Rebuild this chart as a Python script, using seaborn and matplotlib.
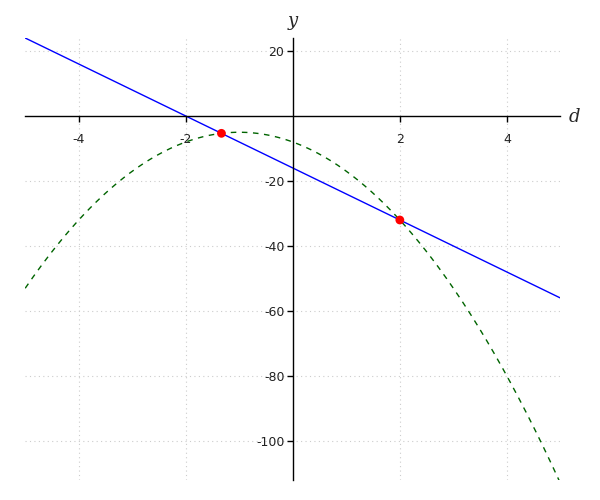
import numpy as np
import pandas as pd
import matplotlib
matplotlib.use("Agg")
import matplotlib.pyplot as plt
import seaborn as sns

# curves: line through (-2, 0) and (2, -32),
# parabola with top near (-1, -5), passing (2, -32) and (-5, -53)
line_coef = [-8, -16]
parab_coef = [-3, -6, -8]
d_range = [-5, 5]
y_range = [-112, 24]
points_d = [-4 / 3, 2]
points_y = [-16 / 3, -32]
x_ticks = [-4, -2, 2, 4]
y_ticks = [20, -20, -40, -60, -80, -100]

d = np.linspace(d_range[0], d_range[1], 400)
df = pd.DataFrame({
    "d": d,
    "line": np.polyval(line_coef, d),
    "parab": np.polyval(parab_coef, d),
})
pts = pd.DataFrame({"d": points_d, "y": points_y})

sns.set_style("white")
fig = plt.figure(figsize=(6, 5), dpi=100)
ax = fig.add_axes([0.042, 0.04, 0.892, 0.884])

sns.lineplot(data=df, x="d", y="line", color="blue", linewidth=1, ax=ax)
sns.lineplot(data=df, x="d", y="parab", color="#006400", linewidth=1,
             ax=ax, linestyle=(0, (4, 4)))
sns.scatterplot(data=pts, x="d", y="y", color="red", s=40, edgecolor="none",
                zorder=5, ax=ax)

ax.set_xlim(d_range)
ax.set_ylim(y_range)

# axes crossing at origin
for side in ["top", "right"]:
    ax.spines[side].set_visible(False)
ax.spines["left"].set_position(("data", 0))
ax.spines["bottom"].set_position(("data", 0))
for side in ["left", "bottom"]:
    ax.spines[side].set_color("black")
    ax.spines[side].set_linewidth(1)

ax.set_xticks(x_ticks)
ax.set_yticks(y_ticks)
ax.set_xticklabels([str(t) for t in x_ticks])
ax.set_yticklabels([str(t) for t in y_ticks])
ax.tick_params(axis="both", direction="out", length=4, width=1, color="black",
               labelsize=9, labelcolor="#222222", bottom=True, left=True, pad=8)
ax.tick_params(axis="y", pad=2)

# dotted grid
for t in x_ticks:
    ax.axvline(t, color="#cccccc", linestyle=(0, (1, 3)), linewidth=0.8, zorder=0)
for t in y_ticks:
    ax.axhline(t, color="#cccccc", linestyle=(0, (1, 3)), linewidth=0.8, zorder=0)

ax.set_xlabel("")
ax.set_ylabel("")
fig.text(0.958, 0.766, "d", family="DejaVu Serif", style="italic", fontsize=13,
         ha="center", va="center")
fig.text(0.488, 0.958, "y", family="DejaVu Serif", style="italic", fontsize=13,
         ha="center", va="center")

fig.savefig("out.png", dpi=100)
